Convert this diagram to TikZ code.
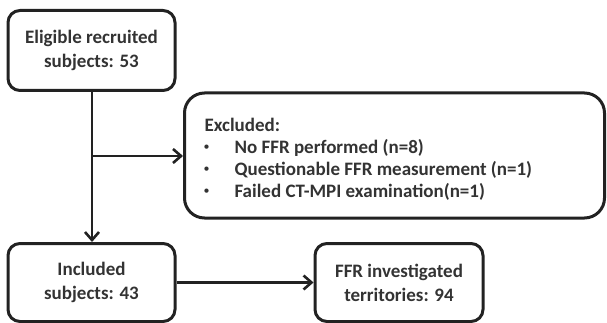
\documentclass[tikz,border=0pt]{standalone}
\usepackage{fontspec}
\setmainfont{Carlito}
\usetikzlibrary{arrows.meta}
\definecolor{ink}{HTML}{222222}
\definecolor{txt}{HTML}{333333}
\begin{document}
\begin{tikzpicture}[x=1pt,y=-1pt,
  every node/.style={font=\bfseries\fontsize{19}{24}\selectfont, text=txt},
  flowbox/.style={draw=ink, line width=3pt, rounded corners=12pt, align=center, inner sep=0pt},
  link/.style={draw=ink, line width=2.6pt, -{Straight Barb[length=8pt,width=14pt,line width=2.6pt]}}]
\useasboundingbox (0,0) rectangle (607,323);
% boxes
\node[flowbox, minimum width=167pt, minimum height=80pt] (elig) at (91.5,50.5) {Eligible recruited\\subjects: 53};
\node[flowbox, rounded corners=20pt, minimum width=420pt, minimum height=125pt] (excl) at (394.5,155.5) {};
\node[flowbox, minimum width=167pt, minimum height=78pt] (incl) at (91.5,282.5) {Included\\subjects: 43};
\node[flowbox, minimum width=168pt, minimum height=78pt] (terr) at (399,282.5) {FFR investigated\\territories: 94};
% exclusion list
\node[anchor=west] (exh) at (201,125) {Excluded:};
\foreach \y/\t [count=\i] in {148/No FFR performed (n=8),170/Questionable FFR measurement (n=1),192/Failed CT-MPI examination(n=1)}{
  \node[anchor=west, font=\fontsize{12}{14}\selectfont] (bul\i) at (200,\y) {•};
  \node[anchor=west] (ex\i) at (231,\y) {\t};
}
% connectors
\coordinate (split) at (92,156);
\draw[link] (elig.south -| split) -- (incl.north -| split);
\draw[link] (split) -- (excl.west |- split);
\draw[link] (incl.east) -- (terr.west);
\end{tikzpicture}
\end{document}
